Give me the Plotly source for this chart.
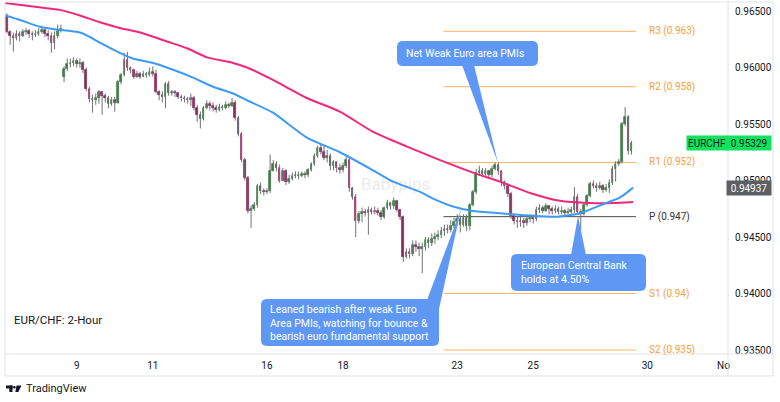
import plotly.graph_objects as go

# ---------------- data ----------------
tick_index = [22, 46, 82, 106, 142, 166, 202, 226]
tick_text = ["9", "11", "16", "18", "23", "25", "30", "No"]

first_open = 0.9646
weekend_gap_open = {18: 0.9592}

closes = [
    .9631, .9628, .9626, .9630, .9628, .9631, .9632, .9630, .9629, .9630,
    .9631, .9633, .9630, .9628, .9622, .9628, .9632, .9634, .9599, .9603,
    .9604, .9606, .9603, .9604, .9598, .9581, .9572, .9571, .9573, .9578,
    .9575, .9573, .9568, .9571, .9569, .9587, .9593, .9607, .9600, .9598,
    .9592, .9594, .9592, .9594, .9593, .9596, .9594, .9578, .9576, .9574,
    .9585, .9577, .9578, .9577, .9574, .9573, .9572, .9571, .9573, .9564,
    .9558, .9554, .9564, .9568, .9566, .9564, .9562, .9565, .9564, .9567,
    .9566, .9569, .9555, .9541, .9518, .9502, .9473, .9475, .9478, .9495,
    .9491, .9490, .9491, .9508, .9515, .9511, .9500, .9508, .9499, .9501,
    .9504, .9505, .9504, .9506, .9505, .9509, .9515, .9522, .9529, .9525,
    .9520, .9522, .9513, .9516, .9511, .9509, .9513, .9518, .9493, .9485,
    .9464, .9470, .9472, .9471, .9474, .9472, .9473, .9471, .9468, .9476,
    .9480, .9477, .9482, .9474, .9468, .9432, .9437, .9435, .9443, .9441,
    .9439, .9441, .9447, .9445, .9448, .9450, .9452, .9455, .9457, .9456,
    .9460, .9463, .9466, .9461, .9467, .9460, .9478, .9490, .9507, .9508,
    .9506, .9508, .9505, .9510, .9514, .9508, .9499, .9495, .9488, .9469,
    .9464, .9463, .9464, .9462, .9466, .9467, .9466, .9474, .9476, .9473,
    .9477, .9475, .9473, .9475, .9472, .9473, .9471, .9472, .9474, .9485,
    .9472, .9470, .9478, .9486, .9497, .9495, .9493, .9495, .9492, .9493,
    .9498, .9510, .9515, .9516, .9550, .9556, .9526, .95329,
]
highs = [
    .9648, .9633, .9631, .9633, .9632, .9634, .9635, .9634, .9632, .9633,
    .9635, .9637, .9635, .9633, .9631, .9632, .9638, .9638, .9601, .9608,
    .9608, .9609, .9608, .9608, .9606, .9600, .9583, .9576, .9577, .9580,
    .9579, .9577, .9575, .9574, .9574, .9589, .9595, .9613, .9614, .9601,
    .9599, .9597, .9596, .9597, .9596, .9600, .9601, .9598, .9580, .9579,
    .9587, .9588, .9580, .9580, .9578, .9576, .9575, .9574, .9577, .9575,
    .9567, .9561, .9566, .9571, .9570, .9569, .9567, .9568, .9567, .9570,
    .9569, .9573, .9571, .9557, .9543, .9520, .9504, .9478, .9481, .9497,
    .9498, .9493, .9493, .9523, .9518, .9517, .9514, .9511, .9510, .9505,
    .9507, .9508, .9508, .9508, .9508, .9511, .9516, .9524, .9531, .9533,
    .9531, .9527, .9524, .9518, .9516, .9515, .9516, .9521, .9520, .9494,
    .9488, .9473, .9476, .9475, .9477, .9476, .9477, .9476, .9474, .9477,
    .9483, .9481, .9485, .9483, .9475, .9469, .9440, .9440, .9447, .9447,
    .9445, .9445, .9450, .9450, .9453, .9454, .9456, .9459, .9461, .9461,
    .9465, .9467, .9470, .9469, .9470, .9470, .9480, .9492, .9510, .9513,
    .9511, .9511, .9509, .9513, .9516, .9516, .9508, .9500, .9497, .9490,
    .9470, .9468, .9468, .9467, .9470, .9470, .9470, .9477, .9479, .9478,
    .9480, .9478, .9477, .9478, .9477, .9477, .9475, .9476, .9477, .9494,
    .9488, .9475, .9480, .9488, .9499, .9500, .9498, .9499, .9497, .9497,
    .9501, .9513, .9517, .9519, .9552, .9565, .9558, .9535,
]
lows = [
    .9630, .9620, .9614, .9624, .9623, .9627, .9629, .9626, .9624, .9627,
    .9628, .9630, .9627, .9624, .9613, .9616, .9626, .9631, .9587, .9597,
    .9600, .9601, .9600, .9600, .9595, .9579, .9569, .9560, .9567, .9568,
    .9558, .9569, .9564, .9566, .9561, .9568, .9585, .9592, .9597, .9595,
    .9590, .9591, .9590, .9592, .9591, .9592, .9592, .9577, .9571, .9569,
    .9564, .9575, .9575, .9574, .9572, .9570, .9569, .9568, .9566, .9562,
    .9552, .9546, .9553, .9563, .9562, .9561, .9560, .9561, .9562, .9563,
    .9564, .9565, .9553, .9539, .9516, .9500, .9471, .9458, .9473, .9476,
    .9488, .9487, .9488, .9489, .9508, .9508, .9498, .9500, .9496, .9497,
    .9500, .9502, .9501, .9503, .9502, .9503, .9508, .9513, .9520, .9523,
    .9518, .9516, .9509, .9509, .9507, .9506, .9507, .9511, .9490, .9483,
    .9450, .9462, .9463, .9468, .9452, .9470, .9470, .9469, .9465, .9466,
    .9474, .9474, .9475, .9472, .9465, .9428, .9431, .9431, .9433, .9437,
    .9433, .9418, .9438, .9440, .9442, .9444, .9447, .9449, .9451, .9453,
    .9454, .9458, .9460, .9454, .9459, .9455, .9456, .9477, .9488, .9504,
    .9503, .9504, .9502, .9503, .9509, .9505, .9495, .9492, .9485, .9466,
    .9461, .9458, .9459, .9458, .9460, .9463, .9462, .9464, .9471, .9471,
    .9472, .9470, .9470, .9471, .9470, .9470, .9469, .9470, .9470, .9471,
    .9470, .9456, .9469, .9477, .9485, .9493, .9490, .9492, .9489, .9490,
    .9489, .9496, .9499, .9513, .9515, .9548, .9523, .9523,
]

sma_slow_at = [-0.6, 8.2, 16.7, 23, 29.3, 35.6, 42, 50.5, 56.8, 63.1, 71.3, 75.7,
               83.9, 94.6, 105, 115.5, 126.2, 136.6, 147, 155.5, 165, 174.4,
               183.9, 191.2, 197.5]
sma_slow = [.9657, .9654, .9651, .9646, .9640, .9635, .9631, .9623, .9617, .9609,
            .9604, .9600, .9589, .9573, .9561, .9543, .9530, .9518, .9507, .9499,
            .9489, .9482, .9480, .9480, .9481]

sma_fast_at = [-0.6, 4.1, 10.4, 14.5, 23, 26.2, 29.3, 35.6, 39.7, 46.1, 52.4, 58.7,
               65, 71.3, 75.7, 83.9, 94.6, 105, 115.5, 121.8, 130.3, 134.4, 140.7,
               147, 155.5, 165, 173.5, 180.8, 187.1, 193.4, 197.5]
sma_fast = [.9646, .9642, .9636, .9634, .9631, .9627, .9622, .9613, .9608, .9604,
            .9598, .9591, .9583, .9577, .9571, .9560, .9538, .9525, .9509, .9499,
            .9490, .9484, .9477, .9473, .9471, .9469, .9468, .9471, .9478, .9485,
            .94937]

pivot_names = ["R3", "R2", "R1", "P", "S1", "S2"]
pivot_text = ["0.963", "0.958", "0.952", "0.947", "0.94", "0.935"]
pivot_values = [0.9632, 0.9583, 0.9516, 0.9468, 0.9400, 0.9350]
pivot_from, pivot_to, pivot_label_at = 137.7, 198.4, 201.9

price_ticks = [0.935, 0.940, 0.945, 0.950, 0.955, 0.960, 0.965]
symbol = "EURCHF"
last_price = 0.95329
fast_last = 0.94937

# ---------------- derived ----------------
bars = list(range(len(closes)))
opens = [first_open] + closes[:-1]
for k, v in weekend_gap_open.items():
    opens[k] = v

GREEN, RED, WICK = "#2e7d32", "#880e4f", "#6f7278"
PINK, BLUE = "#f0287c", "#3d9bf2"
ORANGE_LINE, ORANGE_TXT = "#ffb461", "#f7a13c"
CALLOUT = "#5f98f4"
FONT = "Roboto"
TXT = "#131722"

W, H = 780, 402
ML, MR, MT, MB = 5, 52, 2, 48
PW, PH = W - ML - MR, H - MT - MB


def px(x):
    return (x - ML) / PW


def py(y):
    return (H - MB - y) / PH


def P(x, y):
    return f"{px(x):.5f} {py(y):.5f}"


def rrect(x0, y0, x1, y1, r):
    return (f"M {P(x0 + r, y0)} L {P(x1 - r, y0)} Q {P(x1, y0)} {P(x1, y0 + r)} "
            f"L {P(x1, y1 - r)} Q {P(x1, y1)} {P(x1 - r, y1)} L {P(x0 + r, y1)} "
            f"Q {P(x0, y1)} {P(x0, y1 - r)} L {P(x0, y0 + r)} Q {P(x0, y0)} {P(x0 + r, y0)} Z")


def poly(pts):
    return "M " + " L ".join(P(x, y) for x, y in pts) + " Z"


fig = go.Figure()

# wicks
wx, wy = [], []
for i, h, l in zip(bars, highs, lows):
    wx += [i, i, None]
    wy += [l, h, None]
fig.add_trace(go.Scatter(x=wx, y=wy, mode="lines", line=dict(color=WICK, width=1),
                         hoverinfo="skip"))

# bodies
base = [min(o, c) for o, c in zip(opens, closes)]
size = [max(abs(c - o), 0.00003) for o, c in zip(opens, closes)]
cols = [GREEN if c >= o else RED for o, c in zip(opens, closes)]
fig.add_trace(go.Bar(x=bars, y=size, base=base, width=0.5,
                     marker=dict(color=cols, line=dict(color=cols, width=0.7))))

# moving averages
fig.add_trace(go.Scatter(x=sma_slow_at, y=sma_slow, mode="lines",
                         line=dict(color=PINK, width=2, shape="spline", smoothing=0.6)))
fig.add_trace(go.Scatter(x=sma_fast_at, y=sma_fast, mode="lines",
                         line=dict(color=BLUE, width=2, shape="spline", smoothing=0.6)))

shapes = []
annotations = []

# pivot lines
for name, txt, v in zip(pivot_names, pivot_text, pivot_values):
    is_p = name == "P"
    shapes.append(dict(type="line", xref="x", yref="y", x0=pivot_from, x1=pivot_to,
                       y0=v, y1=v, layer="below",
                       line=dict(color="#4a4a4a" if is_p else ORANGE_LINE, width=1)))
    annotations.append(dict(xref="x", yref="y", x=pivot_label_at, y=v, xanchor="left",
                            yanchor="middle", showarrow=False, text=f"{name} ({txt})",
                            font=dict(family=FONT, size=10,
                                      color="#333333" if is_p else ORANGE_TXT)))

# callouts
callouts = [
    dict(box=(397, 41, 538, 66), ptr=[(462, 65), (498, 163), (474, 65)],
         text="Net Weak Euro area PMIs", tx=404, ty=53.5),
    dict(box=(261, 299, 439, 346), ptr=[(427, 300), (461, 209), (439, 309)],
         text="Leaned bearish after weak Euro<br>Area PMIs, watching for bounce &<br>"
              "bearish euro fundamental support", tx=268, ty=322.7),
    dict(box=(511, 254, 646, 291), ptr=[(571, 255), (578, 216), (586, 255)],
         text="European Central Bank<br>holds at 4.50%", tx=519, ty=272.5),
]
for c in callouts:
    shapes.append(dict(type="path", xref="paper", yref="paper", path=poly(c["ptr"]),
                       fillcolor=CALLOUT, line=dict(width=0)))
    shapes.append(dict(type="path", xref="paper", yref="paper", path=rrect(*c["box"], 6),
                       fillcolor=CALLOUT, line=dict(width=0)))
    annotations.append(dict(xref="paper", yref="paper", x=px(c["tx"]), y=py(c["ty"]),
                            xanchor="left", yanchor="middle", align="left", showarrow=False,
                            text=c["text"], font=dict(family=FONT, size=10.5, color="white")))

# frame lines
FR = "#e0e3eb"
shapes += [
    dict(type="rect", xref="paper", yref="paper", x0=px(5), x1=px(773), y0=py(376), y1=py(2),
         line=dict(color=FR, width=1)),
    dict(type="line", xref="paper", yref="paper", x0=px(5), x1=px(773), y0=py(354), y1=py(354),
         line=dict(color=FR, width=1)),
    dict(type="line", xref="paper", yref="paper", x0=px(728), x1=px(728), y0=py(376), y1=py(2),
         line=dict(color=FR, width=1)),
]

# TradingView logo
shapes += [
    dict(type="rect", xref="paper", yref="paper", x0=px(6), x1=px(12.5), y0=py(388.5), y1=py(385.5),
         fillcolor=TXT, line=dict(width=0)),
    dict(type="rect", xref="paper", yref="paper", x0=px(9.3), x1=px(12.5), y0=py(392), y1=py(385.5),
         fillcolor=TXT, line=dict(width=0)),
    dict(type="circle", xref="paper", yref="paper", x0=px(13), x1=px(15.6), y0=py(388.5), y1=py(385.9),
         fillcolor=TXT, line=dict(width=0)),
    dict(type="path", xref="paper", yref="paper",
         path=poly([(16.5, 385.5), (21.5, 385.5), (18.3, 392), (15.3, 392)]),
         fillcolor=TXT, line=dict(width=0)),
]
annotations.append(dict(xref="paper", yref="paper", x=px(24), y=py(388.5), xanchor="left",
                        yanchor="middle", showarrow=False, text="TradingView",
                        font=dict(family=FONT, size=11, color=TXT)))

# title + watermark
annotations.append(dict(xref="paper", yref="paper", x=px(12), y=py(320), xanchor="left",
                        yanchor="middle", showarrow=False, text="EUR/CHF: 2-Hour",
                        font=dict(family=FONT, size=11.5, color=TXT)))
annotations.append(dict(xref="paper", yref="paper", x=px(395), y=py(184), xanchor="center",
                        yanchor="middle", showarrow=False, text="Babypips",
                        font=dict(family=FONT, size=17, color="rgba(120,123,134,0.17)")))

# price-scale labels
annotations += [
    dict(xref="paper", yref="y", x=px(707), y=last_price, xanchor="center", yanchor="middle",
         showarrow=False, text=symbol, width=38, height=12, bgcolor="#0fe35e",
         font=dict(family=FONT, size=10, color=TXT)),
    dict(xref="paper", yref="y", x=px(749.5), y=last_price, xanchor="center", yanchor="middle",
         showarrow=False, text=f"{last_price:.5f}", width=42, height=12, bgcolor="#0fe35e",
         font=dict(family=FONT, size=10, color=TXT)),
    dict(xref="paper", yref="y", x=px(749.5), y=fast_last, xanchor="center", yanchor="middle",
         showarrow=False, text=f"{fast_last:.5f}", width=42, height=12, bgcolor="#5d5f63",
         font=dict(family=FONT, size=10, color="white")),
]

y_top = 0.965 + 9 * 0.0000885
y_bot = 0.935 - 4 * 0.0000885
x_left = (ML - 7) / 3.17
x_right = (ML + PW - 7) / 3.17

fig.update_layout(
    width=W, height=H, margin=dict(l=ML, r=MR, t=MT, b=MB, pad=0, autoexpand=False),
    paper_bgcolor="white", plot_bgcolor="white", showlegend=False,
    font=dict(family=FONT, color=TXT), bargap=0,
    shapes=shapes, annotations=annotations,
    xaxis=dict(range=[x_left, x_right], tickvals=tick_index, ticktext=tick_text,
               showgrid=False, zeroline=False, showline=False, ticks="", automargin=False,
               tickfont=dict(family=FONT, size=10, color=TXT), ticklabelstandoff=4,
               fixedrange=True),
    yaxis=dict(range=[y_bot, y_top], side="right", tickvals=price_ticks,
               ticktext=[f"{v:.5f}" for v in price_ticks], automargin=False,
               showgrid=False, zeroline=False, showline=False, ticks="",
               tickfont=dict(family=FONT, size=10, color=TXT), ticklabelstandoff=6,
               fixedrange=True),
)

fig.write_html("out.html", config={"displayModeBar": False},
               post_script="document.body.style.margin='0';document.body.style.overflow='hidden';")
